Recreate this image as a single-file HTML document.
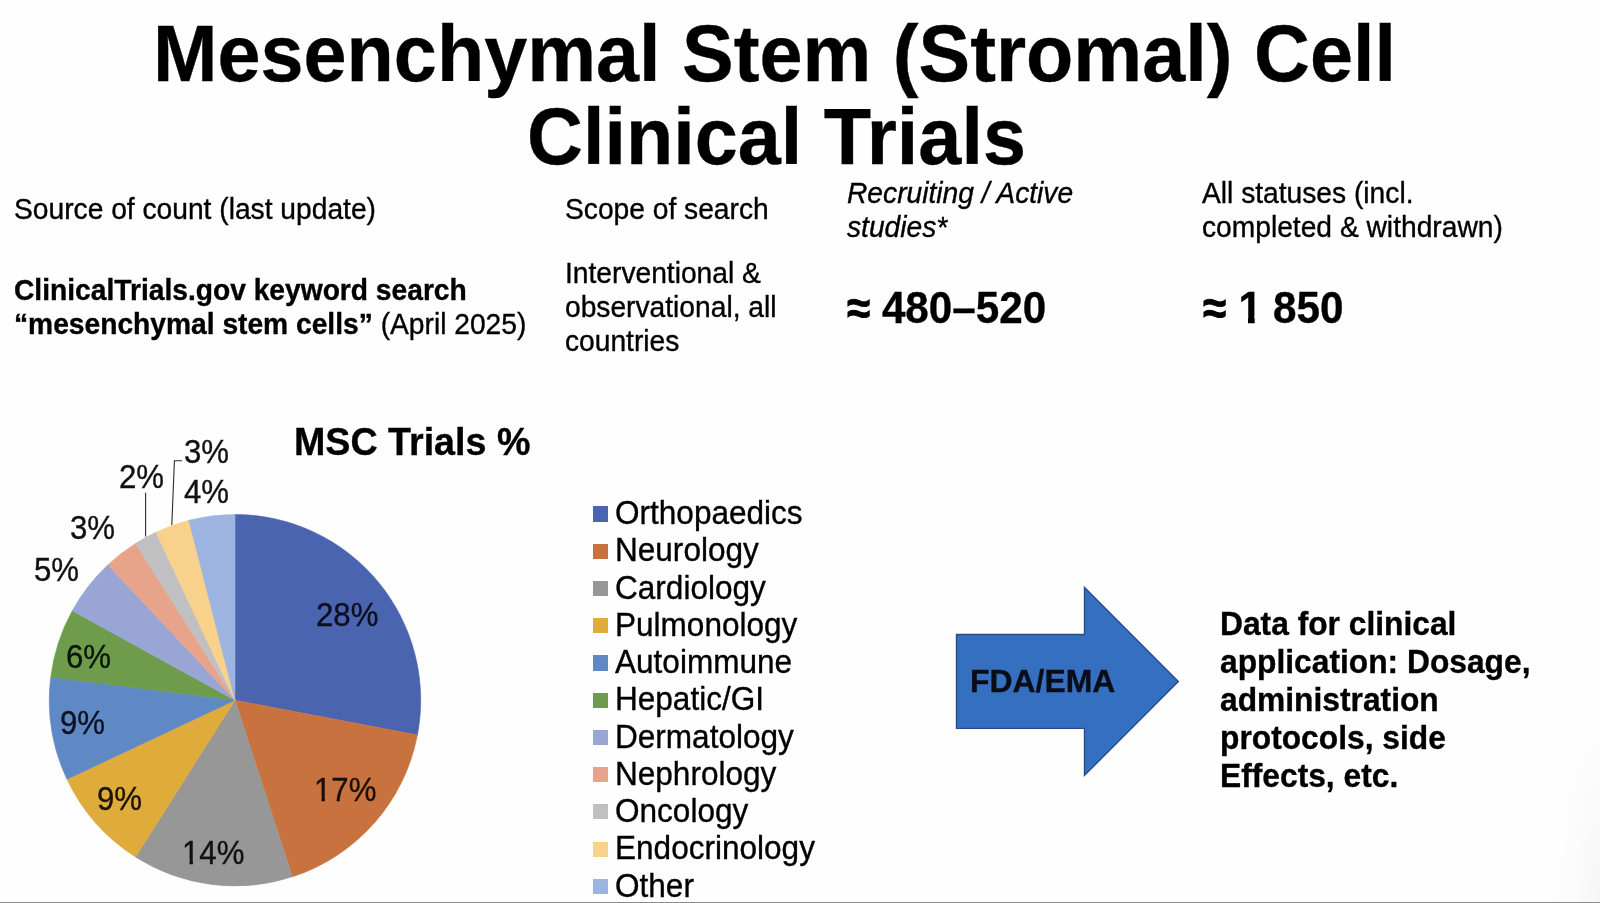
<!DOCTYPE html>
<html>
<head>
<meta charset="utf-8">
<title>Mesenchymal Stem (Stromal) Cell Clinical Trials</title>
<style>
html,body{margin:0;padding:0;}
body{width:1600px;height:903px;overflow:hidden;background:#fefefe;position:relative;font-family:"Liberation Sans",sans-serif;color:#000;}
.t{position:absolute;white-space:nowrap;line-height:1;transform-origin:0 0;margin:0;will-change:transform;-webkit-text-stroke:0.35px;}
.r{font-weight:normal;}
.b{font-weight:bold;}
.i{font-style:italic;}
.sq{position:absolute;left:592.7px;width:15.5px;height:15.3px;}
#bottomline{position:absolute;left:0;top:902px;width:1600px;height:1px;background:#8c8c8c;}
#rightshade{position:absolute;left:1550px;top:690px;width:50px;height:212px;background:radial-gradient(ellipse 50px 212px at 100% 100%,rgba(0,0,0,0.035),rgba(0,0,0,0.012) 50%,rgba(0,0,0,0) 100%);}
.o1{display:inline-block;clip-path:polygon(0 0,100% 0,100% 71%,63% 71%,63% 100%,43.5% 100%,43.5% 71%,0 71%);}
.o1b{display:inline-block;position:relative;left:0.7px;clip-path:polygon(0 0,100% 0,100% 66%,68.5% 66%,68.5% 100%,40% 100%,40% 66%,0 66%);}
.ap{display:inline-block;transform:scale(1.0,1.08);transform-origin:50% 62%;-webkit-text-stroke:0.8px #000;}
</style>
</head>
<body>

<svg id="pie" style="position:absolute;left:0;top:400px;" width="560" height="503" viewBox="0 400 560 503">
<path d="M235.00,700.20 L235.00,514.50 A185.7,185.7 0 0 1 417.41,735.00 Z" fill="#4a64b0" stroke="#4a64b0" stroke-width="0.6"/>
<path d="M235.00,700.20 L417.41,735.00 A185.7,185.7 0 0 1 292.38,876.81 Z" fill="#c8733f" stroke="#c8733f" stroke-width="0.6"/>
<path d="M235.00,700.20 L292.38,876.81 A185.7,185.7 0 0 1 135.50,856.99 Z" fill="#979797" stroke="#979797" stroke-width="0.6"/>
<path d="M235.00,700.20 L135.50,856.99 A185.7,185.7 0 0 1 66.97,779.27 Z" fill="#dfab3b" stroke="#dfab3b" stroke-width="0.6"/>
<path d="M235.00,700.20 L66.97,779.27 A185.7,185.7 0 0 1 50.76,676.93 Z" fill="#5f89c5" stroke="#5f89c5" stroke-width="0.6"/>
<path d="M235.00,700.20 L50.76,676.93 A185.7,185.7 0 0 1 72.27,610.74 Z" fill="#6f9c4c" stroke="#6f9c4c" stroke-width="0.6"/>
<path d="M235.00,700.20 L72.27,610.74 A185.7,185.7 0 0 1 107.88,564.83 Z" fill="#98a5d5" stroke="#98a5d5" stroke-width="0.6"/>
<path d="M235.00,700.20 L107.88,564.83 A185.7,185.7 0 0 1 135.50,543.41 Z" fill="#e8a48b" stroke="#e8a48b" stroke-width="0.6"/>
<path d="M235.00,700.20 L135.50,543.41 A185.7,185.7 0 0 1 155.93,532.17 Z" fill="#c0bfc2" stroke="#c0bfc2" stroke-width="0.6"/>
<path d="M235.00,700.20 L155.93,532.17 A185.7,185.7 0 0 1 188.82,520.33 Z" fill="#f8d18b" stroke="#f8d18b" stroke-width="0.6"/>
<path d="M235.00,700.20 L188.82,520.33 A185.7,185.7 0 0 1 235.00,514.50 Z" fill="#9cb4df" stroke="#9cb4df" stroke-width="0.6"/>
<path d="M145.6,492.7 L145.6,536.5" stroke="#2b2b2b" stroke-width="1.1" fill="none"/>
<path d="M182.1,460.8 L174.4,460.8 L171.8,525" stroke="#2b2b2b" stroke-width="1.1" fill="none"/>
</svg>
<svg id="arrow" style="position:absolute;left:940px;top:570px;" width="260" height="230" viewBox="940 570 260 230"><polygon points="956.5,634.5 1084.5,634.5 1084.5,587.5 1178.3,681.45 1084.5,775.4 1084.5,728.4 956.5,728.4" fill="#3570c0" stroke="#2a4a8c" stroke-width="1.4" stroke-linejoin="miter"/></svg>
<div class="sq" style="top:506.30px;background:#4a64b0;"></div>
<div class="sq" style="top:543.50px;background:#c8733f;"></div>
<div class="sq" style="top:580.80px;background:#979797;"></div>
<div class="sq" style="top:618.00px;background:#dfab3b;"></div>
<div class="sq" style="top:655.30px;background:#5f89c5;"></div>
<div class="sq" style="top:692.50px;background:#6f9c4c;"></div>
<div class="sq" style="top:729.70px;background:#98a5d5;"></div>
<div class="sq" style="top:767.00px;background:#e8a48b;"></div>
<div class="sq" style="top:804.20px;background:#c0bfc2;"></div>
<div class="sq" style="top:841.50px;background:#f8d18b;"></div>
<div class="sq" style="top:878.80px;background:#9cb4df;"></div>
<div class="t b" id="t1" style="left:153.10px;top:12.86px;font-size:77.40px;transform:scaleY(1.04);">Mesenchymal Stem (Stromal) Cell</div>
<div class="t b" id="t2" style="left:526.55px;top:95.86px;font-size:77.40px;transform:scaleY(1.04);">Clinical Trials</div>
<div class="t r" id="h1" style="left:13.75px;top:194.61px;font-size:28.20px;transform:scaleY(1.02);">Source of count (last update)</div>
<div class="t r" id="h2" style="left:565.10px;top:194.61px;font-size:28.20px;transform:scaleY(1.02);">Scope of search</div>
<div class="t i" id="h3a" style="left:847.30px;top:178.61px;font-size:28.20px;transform:scaleY(1.02);">Recruiting / Active</div>
<div class="t i" id="h3b" style="left:847.30px;top:212.61px;font-size:28.20px;transform:scaleY(1.02);">studies*</div>
<div class="t r" id="h4a" style="left:1202.30px;top:178.61px;font-size:28.20px;transform:scaleY(1.02);">All statuses (incl.</div>
<div class="t r" id="h4b" style="left:1202.30px;top:212.61px;font-size:28.20px;transform:scaleY(1.02);">completed &amp; withdrawn)</div>
<div class="t b" id="d1a" style="left:13.75px;top:275.61px;font-size:28.20px;transform:scaleY(1.02);">ClinicalTrials.gov keyword search</div>
<div class="t b" id="d1b" style="left:13.75px;top:309.61px;font-size:28.20px;transform:scaleY(1.02);">“mesenchymal stem cells” <span style="font-weight:normal">(April 2025)</span></div>
<div class="t r" id="d2a" style="left:565.10px;top:258.61px;font-size:28.20px;transform:scaleY(1.02);">Interventional &amp;</div>
<div class="t r" id="d2b" style="left:565.10px;top:292.61px;font-size:28.20px;transform:scaleY(1.02);">observational, all</div>
<div class="t r" id="d2c" style="left:565.10px;top:326.61px;font-size:28.20px;transform:scaleY(1.02);">countries</div>
<div class="t b" id="n1" style="left:847.00px;top:286.83px;font-size:42.20px;transform:scaleY(1.04);"><span class="ap">≈</span> 480–520</div>
<div class="t b" id="n2" style="left:1202.65px;top:286.83px;font-size:42.20px;transform:scaleY(1.04);"><span class="ap">≈</span> <span class="o1b">1</span> 850</div>
<div class="t b" id="ct" style="left:293.90px;top:423.05px;font-size:37.65px;transform:scaleY(1.03);">MSC Trials %</div>
<div class="t r" id="p3a" style="left:184.40px;top:435.11px;font-size:31.20px;transform:scaleY(1.09);color:#111;">3%</div>
<div class="t r" id="p2" style="left:119.20px;top:460.33px;font-size:31.20px;transform:scaleY(1.09);color:#111;">2%</div>
<div class="t r" id="p4" style="left:184.40px;top:475.22px;font-size:31.20px;transform:scaleY(1.09);color:#111;">4%</div>
<div class="t r" id="p3b" style="left:70.20px;top:511.44px;font-size:31.20px;transform:scaleY(1.09);color:#111;">3%</div>
<div class="t r" id="p5" style="left:33.60px;top:553.02px;font-size:31.20px;transform:scaleY(1.09);color:#111;">5%</div>
<div class="t r" id="p28" style="left:316.00px;top:598.11px;font-size:31.20px;transform:scaleY(1.06);color:#0b0f1f;">28%</div>
<div class="t r" id="p17" style="left:314.10px;top:772.52px;font-size:31.20px;transform:scaleY(1.06);color:#1a0f08;"><span class="o1">1</span>7%</div>
<div class="t r" id="p14" style="left:182.40px;top:836.44px;font-size:31.20px;transform:scaleY(1.06);color:#111;"><span class="o1">1</span>4%</div>
<div class="t r" id="p9a" style="left:97.00px;top:781.94px;font-size:31.20px;transform:scaleY(1.06);color:#1a1406;">9%</div>
<div class="t r" id="p9b" style="left:60.00px;top:705.83px;font-size:31.20px;transform:scaleY(1.06);color:#0b1220;">9%</div>
<div class="t r" id="p6" style="left:66.00px;top:639.61px;font-size:31.20px;transform:scaleY(1.06);color:#0c1608;">6%</div>
<div class="t r" id="l1" style="left:615.40px;top:496.86px;font-size:31.55px;transform:scaleY(1.04);">Orthopaedics</div>
<div class="t r" id="l2" style="left:615.40px;top:534.05px;font-size:31.55px;transform:scaleY(1.04);">Neurology</div>
<div class="t r" id="l3" style="left:615.40px;top:572.36px;font-size:31.55px;transform:scaleY(1.04);">Cardiology</div>
<div class="t r" id="l4" style="left:615.40px;top:608.55px;font-size:31.55px;transform:scaleY(1.04);">Pulmonology</div>
<div class="t r" id="l5" style="left:615.40px;top:645.86px;font-size:31.55px;transform:scaleY(1.04);">Autoimmune</div>
<div class="t r" id="l6" style="left:615.40px;top:683.05px;font-size:31.55px;transform:scaleY(1.04);">Hepatic/GI</div>
<div class="t r" id="l7" style="left:615.40px;top:721.25px;font-size:31.55px;transform:scaleY(1.04);">Dermatology</div>
<div class="t r" id="l8" style="left:615.40px;top:757.55px;font-size:31.55px;transform:scaleY(1.04);">Nephrology</div>
<div class="t r" id="l9" style="left:615.40px;top:794.75px;font-size:31.55px;transform:scaleY(1.04);">Oncology</div>
<div class="t r" id="l10" style="left:615.40px;top:832.05px;font-size:31.55px;transform:scaleY(1.04);">Endocrinology</div>
<div class="t r" id="l11" style="left:615.40px;top:870.36px;font-size:31.55px;transform:scaleY(1.04);">Other</div>
<div class="t b" id="fda" style="left:970.40px;top:666.00px;font-size:31.90px;transform:scaleY(1.0);color:#0a0d18;">FDA/EMA</div>
<div class="t b" id="x1" style="left:1219.50px;top:608.19px;font-size:31.75px;transform:scaleY(1.02);">Data for clinical</div>
<div class="t b" id="x2" style="left:1219.50px;top:645.58px;font-size:31.75px;transform:scaleY(1.02);">application: Dosage,</div>
<div class="t b" id="x3" style="left:1219.50px;top:684.19px;font-size:31.75px;transform:scaleY(1.02);">administration</div>
<div class="t b" id="x4" style="left:1219.50px;top:721.58px;font-size:31.75px;transform:scaleY(1.02);">protocols, side</div>
<div class="t b" id="x5" style="left:1219.50px;top:760.38px;font-size:31.75px;transform:scaleY(1.02);">Effects, etc.</div>
<div id="bottomline"></div>
<div id="rightshade"></div>
</body>
</html>
